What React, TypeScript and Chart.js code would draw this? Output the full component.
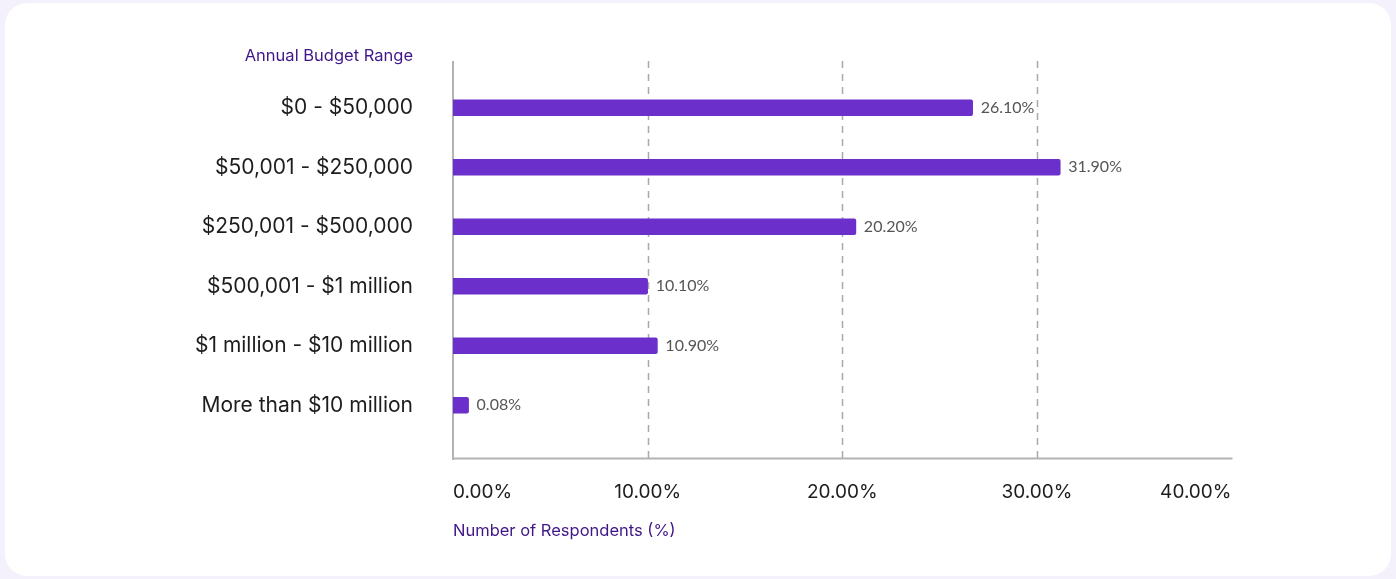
import React, { useEffect, useRef } from "react";
import { Chart, registerables } from "chart.js";

Chart.register(...registerables);

const categories = [
  "$0 - $50,000",
  "$50,001 - $250,000",
  "$250,001 - $500,000",
  "$500,001 - $1 million",
  "$1 million - $10 million",
  "More than $10 million",
];
// bar lengths as drawn in the picture (percent)
const barLengths = [26.7, 31.2, 20.7, 10.0, 10.5, 0.8];
// value labels printed next to the bars
const valueLabels = ["26.10%", "31.90%", "20.20%", "10.10%", "10.90%", "0.08%"];
const xMin = 0;
const xMax = 40;
const xStep = 10;
const yTitle = "Annual Budget Range";
const xTitle = "Number of Respondents (%)";

const PURPLE = "#6B2FCB";
const TITLE_COLOR = "#3f1688";
const AXIS_COLOR = "#b3b3b3";

const decorPlugin = {
  id: "decor",
  beforeDatasetsDraw(chart: any) {
    const { ctx } = chart;
    const xs = chart.scales.x;
    const top = 61;
    const bottom = 459;
    ctx.save();
    ctx.strokeStyle = "#a9a9a9";
    ctx.lineWidth = 1.5;
    ctx.setLineDash([7, 6]);
    for (let v = xMin + xStep; v < xMax; v += xStep) {
      const x = Math.round(xs.getPixelForValue(v)) + 0.5;
      ctx.beginPath();
      ctx.moveTo(x, top);
      ctx.lineTo(x, bottom);
      ctx.stroke();
    }
    ctx.setLineDash([]);
    ctx.strokeStyle = AXIS_COLOR;
    ctx.lineWidth = 2;
    const x0 = xs.getPixelForValue(xMin);
    const x1 = xs.getPixelForValue(xMax);
    ctx.beginPath();
    ctx.moveTo(x0, top);
    ctx.lineTo(x0, bottom + 1);
    ctx.stroke();
    ctx.beginPath();
    ctx.moveTo(x0 - 1, bottom - 0.5);
    ctx.lineTo(x1 + 1, bottom - 0.5);
    ctx.stroke();
    ctx.restore();
  },
  afterDatasetsDraw(chart: any) {
    const { ctx } = chart;
    const meta = chart.getDatasetMeta(0);
    ctx.save();
    ctx.font = "16px Lato";
    ctx.fillStyle = "#555555";
    ctx.textAlign = "left";
    ctx.textBaseline = "middle";
    meta.data.forEach((bar: any, i: number) => {
      ctx.fillText(valueLabels[i], bar.x + 8, bar.y);
    });
    ctx.restore();
  },
  afterDraw(chart: any) {
    const { ctx } = chart;
    ctx.save();
    ctx.font = "16.5px Inter";
    ctx.fillStyle = TITLE_COLOR;
    ctx.textAlign = "right";
    ctx.textBaseline = "middle";
    ctx.fillText(yTitle, 413, 56);
    ctx.restore();
  },
};

export default function App() {
  const ref = useRef<HTMLCanvasElement | null>(null);

  useEffect(() => {
    if (!ref.current) return;
    const chart = new Chart(ref.current, {
      type: "bar",
      data: {
        labels: categories,
        datasets: [
          {
            data: barLengths,
            backgroundColor: PURPLE,
            barThickness: 16,
            borderRadius: 2,
          },
        ],
      },
      options: {
        responsive: false,
        animation: false,
        indexAxis: "y",
        layout: { padding: { top: 78, right: 164.5, left: 0, bottom: 0 } },
        plugins: {
          legend: { display: false },
          tooltip: { enabled: false },
        },
        scales: {
          x: {
            type: "linear",
            min: xMin,
            max: xMax,
            ticks: {
              stepSize: xStep,
              align: "inner",
              padding: 46,
              color: "#1d1d1d",
              font: { family: "Inter", size: 19 },
              callback: (v: any) => Number(v).toFixed(2) + "%",
            },
            grid: { display: false, drawTicks: false },
            border: { display: false },
            title: {
              display: true,
              text: xTitle,
              align: "start",
              color: TITLE_COLOR,
              font: { family: "Inter", size: 16.5 },
              padding: { top: 0, bottom: 38 },
            },
            afterFit: (s: any) => {
              s.height = 144;
            },
          },
          y: {
            type: "category",
            ticks: {
              padding: 40,
              color: "#1d1d1d",
              font: { family: "Inter", size: 21 },
            },
            grid: { display: false, drawTicks: false },
            border: { display: false },
            afterFit: (s: any) => {
              s.width = 453;
            },
          },
        },
      } as any,
      plugins: [decorPlugin],
    });
    return () => chart.destroy();
  }, []);

  return (
    <div
      style={{
        position: "fixed",
        left: 0,
        top: 0,
        width: 1396,
        height: 579,
        background: "#F4F0FC",
        overflow: "hidden",
      }}
    >
      <div
        style={{
          position: "absolute",
          left: 5,
          top: 3,
          width: 1386,
          height: 573,
          background: "#ffffff",
          borderRadius: 22,
        }}
      />
      <canvas
        ref={ref}
        width={1396}
        height={579}
        style={{ position: "absolute", left: 0, top: 0, width: 1396, height: 579 }}
      />
    </div>
  );
}
